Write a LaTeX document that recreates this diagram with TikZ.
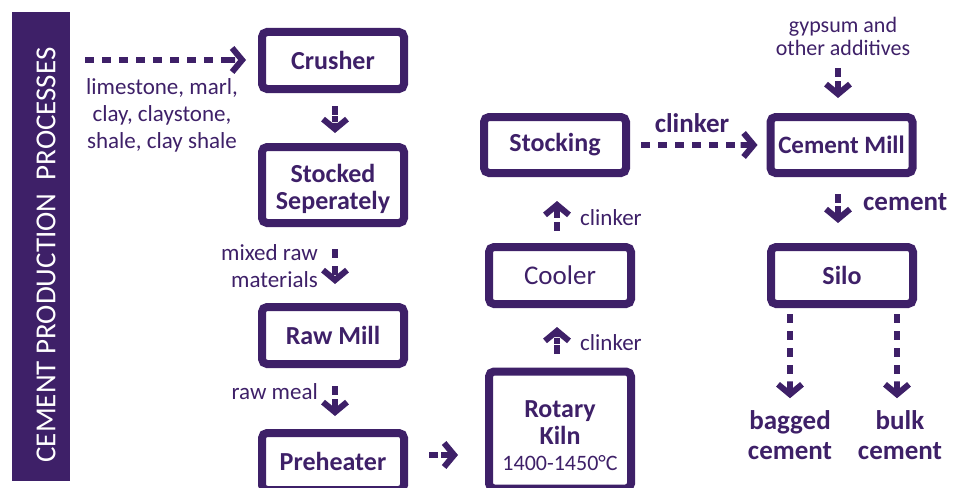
\documentclass[tikz,border=0pt]{standalone}
\usepackage{fontspec}
\setmainfont{Carlito}
\usetikzlibrary{arrows.meta,calc}
\definecolor{pur}{HTML}{3E2068}
\tikzset{
  box/.style={draw=pur, line width=8pt, rounded corners=5pt, minimum width=142pt, text=pur, align=center, inner sep=0pt},
  bt/.style={font=\fontsize{26}{27}\selectfont\bfseries},
  lbl/.style={text=pur, font=\fontsize{23}{27}\selectfont, inner sep=0pt},
  blbl/.style={text=pur, font=\fontsize{27}{30}\selectfont\bfseries, inner sep=0pt},
  flow/.style={draw=pur, line width=6pt, dash pattern=on 9pt off 8pt,
    -{Rectangle[length=12pt,width=6pt,sep=-9pt] Straight Barb[length=10pt,width=24pt,line width=6pt]}},
}
\begin{document}
\begin{tikzpicture}[x=1pt,y=-1pt]
\useasboundingbox (0,0) rectangle (955,487);
\clip (0,0) rectangle (955,487);
% side bar
\fill[pur] (12,12) rectangle (70,481);
\node[rotate=90, text=white, font=\fontsize{29}{30}\selectfont, inner sep=0pt] (title) at (46,255) {CEMENT PRODUCTION \ PROCESSES};
% boxes
\node[box, bt, minimum height=57pt] (crusher) at (333,60.5) {Crusher};
\node[box, minimum height=76pt] (stocked) at (333,185) {};
\node[text=pur, bt, align=center, inner sep=0pt] (stockedt) at (333,189) {Stocked\\Seperately};
\node[box, bt, minimum height=57pt] (rawmill) at (333,335.5) {Raw Mill};
\node[box, bt, minimum height=57pt] (preheater) at (333,461.5) {Preheater};
\node[box, minimum height=117pt] (kiln) at (560,430) {};
\node[text=pur, bt, align=center, inner sep=0pt] (kilnt) at (560,423) {Rotary\\Kiln};
\node[text=pur, font=\fontsize{22}{24}\selectfont, inner sep=0pt] (kilntemp) at (560,463) {1400-1450°C};
\node[box, font=\fontsize{27}{28}\selectfont, minimum height=57pt] (cooler) at (560,275.5) {Cooler};
\node[box, bt, minimum height=56pt] (stocking) at (555,145) {Stocking};
\node[box, font=\fontsize{25}{26}\selectfont\bfseries, minimum height=56pt] (cmill) at (841.5,145) {Cement Mill};
\node[box, bt, minimum height=57pt] (silo) at (842,275.5) {Silo};
% labels
\node[lbl, align=center] (raw) at (162,115) {limestone, marl,\\clay, claystone,\\shale, clay shale};
\coordinate (in1) at (85,60);
\node[lbl, align=right, anchor=east] (mixed) at (318,266.5) {mixed raw\\materials};
\node[lbl, anchor=east] (meal) at (318,392) {raw meal};
\node[lbl, anchor=west] (clk1) at (580,218) {clinker};
\node[lbl, anchor=west] (clk2) at (580,343) {clinker};
\node[blbl] (clk3) at (692,123) {clinker};
\node[blbl, anchor=west] (cem) at (863,202) {cement};
\node[lbl, align=center, font=\fontsize{22}{23}\selectfont] (gyp) at (843,36) {gypsum and\\other additives};
\node[blbl, align=center] (bagged) at (790,435) {bagged\\cement};
\node[blbl, align=center] (bulk) at (900,435) {bulk\\cement};
% arrows
\draw[flow, shorten >=12pt] (in1) -- (in1 -| crusher.west);
\draw[flow, shorten <=13pt, shorten >=10pt] ([xshift=2pt]crusher.south) -- ([xshift=2pt]stocked.north);
\draw[flow, shorten <=22pt, shorten >=19pt] ([xshift=2pt]stocked.south) -- ([xshift=2pt]rawmill.north);
\draw[flow, shorten <=18pt, shorten >=13pt] ([xshift=2pt]rawmill.south) -- ([xshift=2pt]preheater.north);
\coordinate (pk) at ([yshift=6.5pt]preheater.east);
\draw[flow, shorten <=21pt, shorten >=27pt] (pk) -- (pk -| kiln.west);
\draw[flow, shorten <=14pt, shorten >=19pt] ([xshift=-3pt]kiln.north) -- ([xshift=-3pt]cooler.south);
\coordinate (cs) at ([xshift=-3pt]cooler.north);
\draw[flow, shorten <=12pt, shorten >=24pt] (cs) -- (cs |- stocking.south);
\draw[flow, shorten <=11pt, shorten >=9pt] (stocking.east) -- (cmill.west);
\coordinate (gm) at (838,68);
\draw[flow, shorten >=15pt] (gm) -- (gm |- cmill.north);
\coordinate (cm) at ([xshift=-3.5pt]cmill.south);
\draw[flow, shorten <=17pt, shorten >=20pt] (cm) -- (cm |- silo.north);
\coordinate (sb) at ([xshift=-52pt]silo.south);
\coordinate (sk) at ([xshift=55pt]silo.south);
\draw[flow, shorten <=6pt, shorten >=12pt] (sb) -- (sb |- bagged.north);
\draw[flow, shorten <=6pt, shorten >=12pt] (sk) -- (sk |- bulk.north);
\end{tikzpicture}
\end{document}
